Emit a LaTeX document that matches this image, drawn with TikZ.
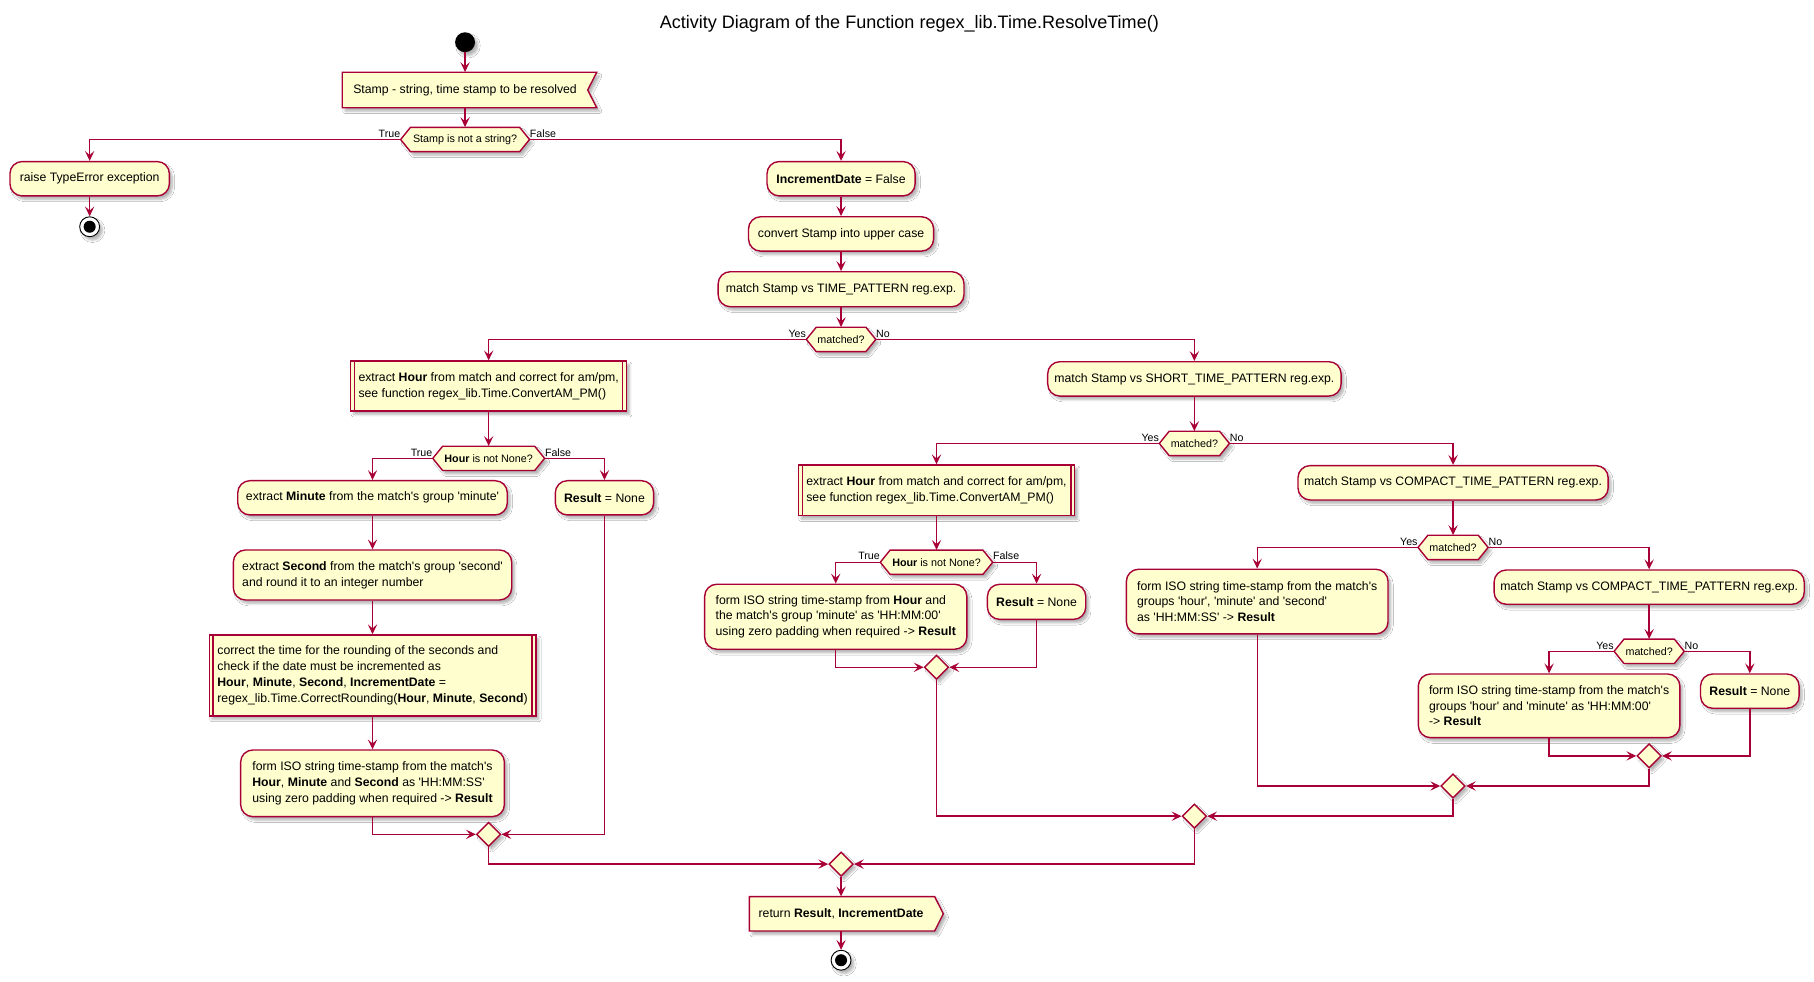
\documentclass[tikz,border=0pt]{standalone}
\usepackage{fontspec}
\setmainfont{Liberation Sans}
\usetikzlibrary{arrows.meta,shapes.geometric,shadows.blur,calc}
\definecolor{pbord}{HTML}{A80036}
\definecolor{pfill}{HTML}{FEFECE}
\newcommand\qq{\textquotesingle}
\newcommand\fsBody{\fontsize{10.6}{13.6}\selectfont}
\newcommand\fsDec{\fontsize{9.3}{11}\selectfont}
\newcommand\fsLbl{\fontsize{9.2}{11}\selectfont}
\newcommand\fsTitle{\fontsize{15.6}{18}\selectfont}
\tikzset{
  shd/.style={blur shadow={shadow xshift=2.5pt,shadow yshift=-3pt,shadow opacity=30,shadow blur radius=2pt,shadow blur steps=6}},
  act/.style={draw=pbord, fill=pfill, line width=1.2pt, rounded corners=10.5pt, shd, font=\fsBody, align=left, inner sep=0pt},
  subr/.style={draw=pbord, fill=pfill, line width=1.2pt, shd, font=\fsBody, align=left, inner sep=0pt},
  plain/.style={font=\fsBody, align=left, inner sep=0pt},
  hexshape/.style={draw=pbord, fill=pfill, line width=1.2pt, shd},
  dtext/.style={inner sep=0pt, font=\fsDec, minimum height=21pt},
  merge/.style={diamond, draw=pbord, fill=pfill, line width=1.2pt, inner sep=0pt, minimum width=21pt, minimum height=21pt, shd},
  arr/.style={draw=pbord, line width=1.2pt, -{Stealth[length=8.5pt,width=8pt,inset=3.5pt]}},
  lbl/.style={font=\fsLbl, inner sep=0pt},
  subline/.style={draw=pbord, line width=1.2pt},
}
% name, cx, cy, halfwidth, text
\newcommand\hexa[5]{%
  \path[hexshape] ({#2-#4},#3) -- ({#2-#4+8.5},{#3-10.5}) -- ({#2+#4-8.5},{#3-10.5}) -- ({#2+#4},#3) -- ({#2+#4-8.5},{#3+10.5}) -- ({#2-#4+8.5},{#3+10.5}) -- cycle;
  \node[dtext, minimum width={2*#4}] (#1) at (#2,#3) {#5};
}
\newcommand\sublines[1]{%
  \draw[subline] ([xshift=4pt]#1.north west) -- ([xshift=4pt]#1.south west);
  \draw[subline] ([xshift=-4pt]#1.north east) -- ([xshift=-4pt]#1.south east);
}
\begin{document}
\begin{tikzpicture}[x=1pt,y=-1pt]
\useasboundingbox (0,0) rectangle (1568,848);
\fill[white] (0,0) rectangle (1568,848);

\node[font=\fsTitle, anchor=base, inner sep=0pt] (title) at (786,24.5) {Activity Diagram of the Function regex\_lib.Time.ResolveTime()};

% start
\node[circle, fill=black, minimum size=17.2pt, inner sep=0pt, shd] (start) at (402,36.5) {};

% input (receive) shape
\path[hexshape] (295.8,62.5) -- (515.8,62.5) -- (508,77.8) -- (515.8,93.1) -- (295.8,93.1) -- cycle;
\node[plain, minimum height=30.6pt] (stamp) at (402,77.8) {Stamp - string, time stamp to be resolved};

\hexa{d1}{402}{120.6}{55.7}{Stamp is not a string?}
\node[lbl, anchor=base east] (l1t) at ([yshift=2pt]d1.west) {True};
\node[lbl, anchor=base west] (l1f) at ([yshift=2pt]d1.east) {False};

\node[act, minimum width=137.8pt, minimum height=29.7pt] (raise) at (77.5,154.5) {raise TypeError exception};
\node[circle, draw=black, fill=white, line width=0.8pt, minimum size=17.2pt, inner sep=0pt, shd] (end1) at (77.5,196) {};
\fill[black] (end1.center) circle (5.2pt);

\node[act, minimum width=128pt, minimum height=29.7pt] (inc) at (727,154.5) {\textbf{IncrementDate} = False};
\node[act, minimum width=160pt, minimum height=29.7pt] (conv) at (727,202.2) {convert Stamp into upper case};
\node[act, minimum width=212.5pt, minimum height=30.3pt] (match1) at (727,250) {match Stamp vs TIME\_PATTERN reg.exp.};

\hexa{d2}{727}{293.4}{30}{matched?}
\node[lbl, anchor=base east] (l2y) at ([yshift=2pt]d2.west) {Yes};
\node[lbl, anchor=base west] (l2n) at ([yshift=2pt]d2.east) {No};

% left (TIME_PATTERN) branch
\node[subr, minimum width=238.6pt, minimum height=43.3pt] (subA) at (422.4,333.7) {extract \textbf{Hour} from match and correct for am/pm,\\see function regex\_lib.Time.ConvertAM\_PM()};
\sublines{subA}

\hexa{d3}{422.4}{396.2}{48.3}{\textbf{Hour} is not None?}
\node[lbl, anchor=base east] (l3t) at ([yshift=2pt]d3.west) {True};
\node[lbl, anchor=base west] (l3f) at ([yshift=2pt]d3.east) {False};

\node[act, minimum width=233pt, minimum height=29.6pt] (minute) at (322,430.3) {extract \textbf{Minute} from the match\qq s group \qq minute\qq};
\node[act, minimum width=85pt, minimum height=29.6pt] (resA) at (522.5,430.3) {\textbf{Result} = None};
\node[act, minimum width=240.6pt, minimum height=43.2pt] (second) at (322,497) {extract \textbf{Second} from the match\qq s group \qq second\qq\\and round it to an integer number};
\node[subr, minimum width=282.3pt, minimum height=70pt] (correct) at (322,583.8) {correct the time for the rounding of the seconds and\\check if the date must be incremented as\\\textbf{Hour}, \textbf{Minute}, \textbf{Second}, \textbf{IncrementDate} =\\regex\_lib.Time.CorrectRounding(\textbf{Hour}, \textbf{Minute}, \textbf{Second})};
\sublines{correct}
\node[act, minimum width=228pt, minimum height=57.6pt] (formA) at (322,677.1) {form ISO string time-stamp from the match\qq s\\\textbf{Hour}, \textbf{Minute} and \textbf{Second} as \qq HH:MM:SS\qq\\using zero padding when required -> \textbf{Result}};
\node[merge] (mA) at (422.4,721.2) {};

% right (SHORT_TIME_PATTERN) branch
\node[act, minimum width=253.6pt, minimum height=29.7pt] (short) at (1032.4,327.5) {match Stamp vs SHORT\_TIME\_PATTERN reg.exp.};
\hexa{d4}{1032.4}{383.3}{30.3}{matched?}
\node[lbl, anchor=base east] (l4y) at ([yshift=2pt]d4.west) {Yes};
\node[lbl, anchor=base west] (l4n) at ([yshift=2pt]d4.east) {No};

\node[subr, minimum width=239pt, minimum height=43.8pt] (subB) at (809.5,423.8) {extract \textbf{Hour} from match and correct for am/pm,\\see function regex\_lib.Time.ConvertAM\_PM()};
\sublines{subB}
\hexa{d5}{809.5}{486}{48.6}{\textbf{Hour} is not None?}
\node[lbl, anchor=base east] (l5t) at ([yshift=2pt]d5.west) {True};
\node[lbl, anchor=base west] (l5f) at ([yshift=2pt]d5.east) {False};
\node[act, minimum width=226.6pt, minimum height=56.2pt] (formB) at (722.4,533.1) {form ISO string time-stamp from \textbf{Hour} and\\the match\qq s group \qq minute\qq{} as \qq HH:MM:00\qq\\using zero padding when required -> \textbf{Result}};
\node[act, minimum width=85pt, minimum height=30.3pt] (resB) at (896,520.2) {\textbf{Result} = None};
\node[merge] (mB) at (809.5,576.8) {};

\node[act, minimum width=268.1pt, minimum height=29.7pt] (comp1) at (1256,417.3) {match Stamp vs COMPACT\_TIME\_PATTERN reg.exp.};
\hexa{d6}{1256}{473.2}{30.3}{matched?}
\node[lbl, anchor=base east] (l6y) at ([yshift=2pt]d6.west) {Yes};
\node[lbl, anchor=base west] (l6n) at ([yshift=2pt]d6.east) {No};
\node[act, minimum width=226.2pt, minimum height=55.9pt] (formC) at (1086.7,520) {form ISO string time-stamp from the match\qq s\\groups \qq hour\qq, \qq minute\qq{} and \qq second\qq\\as \qq HH:MM:SS\qq{} -> \textbf{Result}};

\node[act, minimum width=268.1pt, minimum height=29.6pt] (comp2) at (1425.5,507.5) {match Stamp vs COMPACT\_TIME\_PATTERN reg.exp.};
\hexa{d7}{1425.5}{563}{30.3}{matched?}
\node[lbl, anchor=base east] (l7y) at ([yshift=2pt]d7.west) {Yes};
\node[lbl, anchor=base west] (l7n) at ([yshift=2pt]d7.east) {No};
\node[act, minimum width=226.1pt, minimum height=55pt] (formD) at (1339,610.1) {form ISO string time-stamp from the match\qq s\\groups \qq hour\qq{} and \qq minute\qq{} as \qq HH:MM:00\qq\\-> \textbf{Result}};
\node[act, minimum width=85.2pt, minimum height=29.6pt] (resC) at (1512.5,597.4) {\textbf{Result} = None};
\node[merge] (mE) at (1425.5,653.4) {};
\node[merge] (mC) at (1256,679.4) {};
\node[merge] (mD) at (1032.4,705.5) {};
\node[merge] (mfin) at (727,746.9) {};

% return (send) shape
\path[hexshape] (647.8,775) -- (807.9,775) -- (815.4,789.85) -- (807.9,804.7) -- (647.8,804.7) -- cycle;
\node[plain, minimum height=29.7pt] (ret) at (727,789.85) {return \textbf{Result}, \textbf{IncrementDate}};
\node[circle, draw=black, fill=white, line width=0.8pt, minimum size=17.2pt, inner sep=0pt, shd] (end2) at (727,830) {};
\fill[black] (end2.center) circle (5.2pt);

% connectors
\draw[arr] (start) -- (stamp.north);
\draw[arr] (stamp.south) -- (d1.north);
\draw[arr] (d1.west) -| (raise.north);
\draw[arr] (raise.south) -- (end1.north);
\draw[arr] (d1.east) -| (inc.north);
\draw[arr] (inc) -- (conv);
\draw[arr] (conv) -- (match1);
\draw[arr] (match1) -- (d2.north);
\draw[arr] (d2.west) -| (subA.north);
\draw[arr] (d2.east) -| (short.north);

\draw[arr] (subA) -- (d3.north);
\draw[arr] (d3.west) -| (minute.north);
\draw[arr] (d3.east) -| (resA.north);
\draw[arr] (minute) -- (second);
\draw[arr] (second) -- (correct);
\draw[arr] (correct) -- (formA);
\draw[arr] (formA.south) |- (mA.west);
\draw[arr] (resA.south) |- (mA.east);
\draw[arr] (mA.south) |- (mfin.west);

\draw[arr] (short) -- (d4.north);
\draw[arr] (d4.west) -| (subB.north);
\draw[arr] (d4.east) -| (comp1.north);
\draw[arr] (subB) -- (d5.north);
\draw[arr] (d5.west) -| (formB.north);
\draw[arr] (d5.east) -| (resB.north);
\draw[arr] (formB.south) |- (mB.west);
\draw[arr] (resB.south) |- (mB.east);
\draw[arr] (mB.south) |- (mD.west);

\draw[arr] (comp1) -- (d6.north);
\draw[arr] (d6.west) -| (formC.north);
\draw[arr] (d6.east) -| (comp2.north);
\draw[arr] (comp2) -- (d7.north);
\draw[arr] (d7.west) -| (formD.north);
\draw[arr] (d7.east) -| (resC.north);
\draw[arr] (formD.south) |- (mE.west);
\draw[arr] (resC.south) |- (mE.east);
\draw[arr] (mE.south) |- (mC.east);
\draw[arr] (formC.south) |- (mC.west);
\draw[arr] (mC.south) |- (mD.east);
\draw[arr] (mD.south) |- (mfin.east);
\draw[arr] (mfin.south) -- (ret.north);
\draw[arr] (ret.south) -- (end2.north);
\end{tikzpicture}
\end{document}
